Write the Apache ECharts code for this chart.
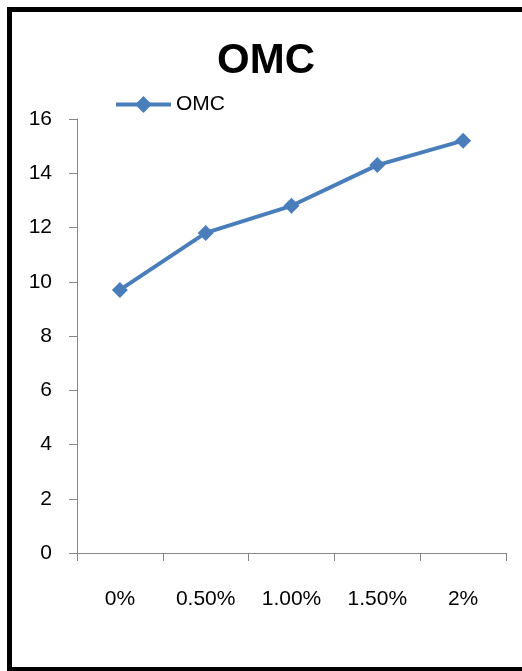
<!DOCTYPE html>
<html>
<head>
<meta charset="utf-8">
<script src="https://cdn.jsdelivr.net/npm/echarts@6/dist/echarts.min.js"></script>
<style>
  html, body { margin: 0; padding: 0; background: #fff; overflow: hidden; }
  #chart { position: absolute; left: 0; top: 0; width: 522px; height: 671px; }
  #frame {
    position: absolute; left: 7px; top: 7px; width: 560px; height: 664px;
    box-sizing: border-box; border: 5px solid #000; border-bottom-width: 4px;
    pointer-events: none;
  }
</style>
</head>
<body>
<div id="chart"></div>
<div id="frame"></div>
<script>
// OMC measured against additive content
const categories = ['0%', '0.50%', '1.00%', '1.50%', '2%'];
const omcValues = [9.7, 11.8, 12.8, 14.3, 15.2];
const seriesName = 'OMC';
const titleText = 'OMC';

const axisGray = '#868686';
const lineBlue = '#4a7ebb';
const labelFont = '"Liberation Sans", Arial, sans-serif';

const chart = echarts.init(document.getElementById('chart'), null, { renderer: 'canvas' });

chart.setOption({
  animation: false,
  backgroundColor: '#fff',
  title: {
    text: titleText,
    left: 217,
    top: 40,
    padding: 0,
    textStyle: { fontFamily: labelFont, fontWeight: 'bold', fontSize: 42, color: '#000' }
  },
  legend: {
    left: 114,
    top: 94,
    padding: 0,
    itemWidth: 55,
    itemHeight: 21,
    itemGap: 5,
    data: [seriesName],
    lineStyle: { width: 4 },
    textStyle: { fontFamily: labelFont, fontSize: 21, color: '#000' }
  },
  grid: { left: 77, right: 16, top: 119, bottom: 118, containLabel: false },
  xAxis: {
    type: 'category',
    data: categories,
    boundaryGap: true,
    axisLine: { lineStyle: { color: axisGray, width: 1 } },
    axisTick: { show: true, length: 8, alignWithLabel: false, lineStyle: { color: axisGray } },
    axisLabel: { margin: 36, fontFamily: labelFont, fontSize: 21, color: '#000' },
    splitLine: { show: false }
  },
  yAxis: {
    type: 'value',
    min: 0,
    max: 16,
    interval: 2,
    axisLine: { show: true, lineStyle: { color: axisGray, width: 1 } },
    axisTick: { show: true, length: 8, lineStyle: { color: axisGray } },
    axisLabel: { margin: 25, fontFamily: labelFont, fontSize: 21, color: '#000' },
    splitLine: { show: false }
  },
  series: [{
    name: seriesName,
    type: 'line',
    data: omcValues,
    symbol: 'diamond',
    symbolSize: 16,
    lineStyle: { color: lineBlue, width: 4 },
    itemStyle: { color: lineBlue }
  }]
});
</script>
</body>
</html>
